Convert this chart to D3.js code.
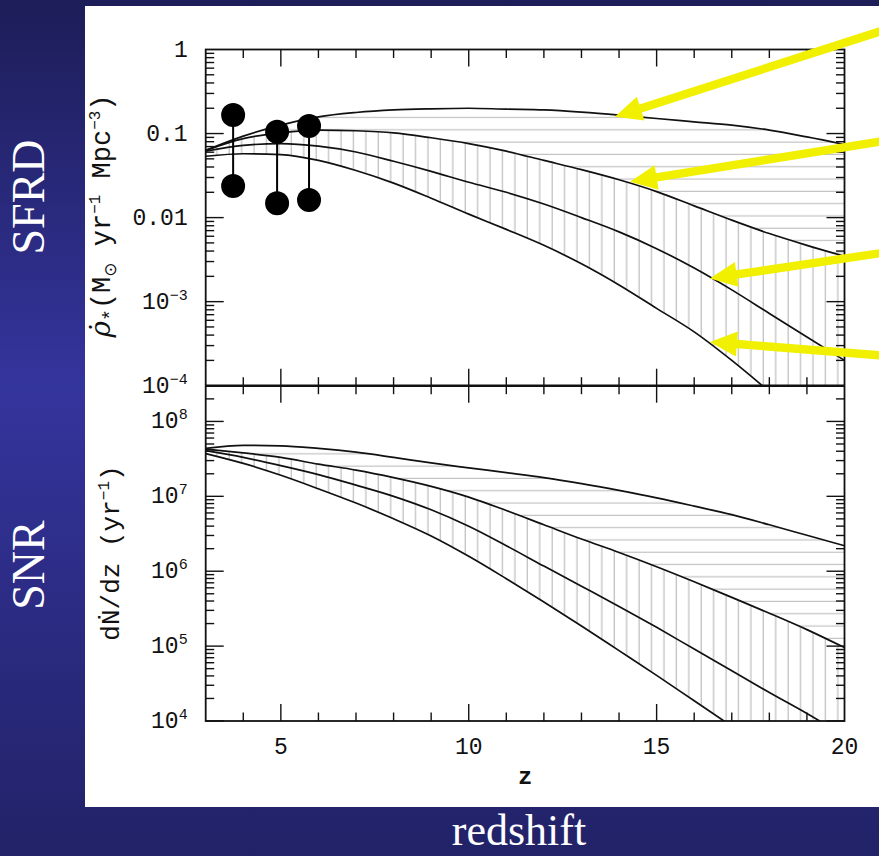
<!DOCTYPE html>
<html><head><meta charset="utf-8">
<script src="https://cdn.jsdelivr.net/npm/d3@7"></script>
<style>html,body{margin:0;padding:0;background:#2a2a7a;} svg{display:block;}</style>
</head><body><svg id="c" width="879" height="856"></svg>
<script>
// ---------------- data ----------------
const zGrid = [3,4,5,6,7,8,9,10,11,12,13,14,15,16,17,18,19,20];
// star formation rate density (M_sun / yr / Mpc^3)
const sfrdA = [0.0631,0.0933,0.126,0.158,0.178,0.191,0.197,0.200,0.195,0.191,0.180,0.166,0.151,0.138,0.126,0.110,0.0912,0.0741];
const sfrdB = [0.0631,0.0871,0.102,0.110,0.108,0.102,0.0891,0.0759,0.0617,0.0479,0.0372,0.0282,0.0204,0.0138,0.00933,0.00646,0.00468,0.00347];
const sfrdC = [0.0617,0.0724,0.0759,0.0708,0.0603,0.0468,0.0355,0.0263,0.0200,0.0145,0.0100,0.00676,0.00427,0.00251,0.00138,0.000724,0.000380,0.000200];
const sfrdD = [0.0537,0.0575,0.0562,0.0479,0.0363,0.0257,0.0170,0.0110,0.00724,0.00468,0.00282,0.00158,0.000832,0.000437,0.000200,0.0000851];
// supernova rate dN/dz (per yr)
const snrA = [4.37e7,4.79e7,4.73e7,4.37e7,3.89e7,3.31e7,2.79e7,2.40e7,2.07e7,1.78e7,1.48e7,1.20e7,9.55e6,7.41e6,5.69e6,4.17e6,3.02e6,2.19e6];
const snrB = [4.27e7,3.80e7,3.31e7,2.69e7,2.24e7,1.78e7,1.36e7,9.77e6,6.46e6,4.17e6,2.69e6,1.78e6,1.15e6,7.24e5,4.47e5,2.75e5,1.66e5,9.55e4];
const snrC = [4.07e7,3.31e7,2.57e7,1.95e7,1.41e7,1.00e7,6.61e6,3.98e6,2.19e6,1.17e6,6.31e5,3.39e5,1.78e5,9.12e4,4.68e4,2.40e4,1.26e4,6.31e3];
const snrD = [3.72e7,2.75e7,1.91e7,1.26e7,8.13e6,5.01e6,2.95e6,1.58e6,7.94e5,3.89e5,1.86e5,8.71e4,4.07e4,1.86e4,8.51e3];
// observed SFRD range points
const obsZ  = [3.73, 4.9, 5.75];
const obsHi = [0.166, 0.105, 0.123];
const obsLo = [0.0237, 0.0148, 0.0162];
// tick labels
const xTickVals = [5,10,15,20];
const xTickLabels = ["5","10","15","20"];
const sfrdTickVals = [1,0.1,0.01,1e-3,1e-4];
const sfrdTickLabels = [["1",""],["0.1",""],["0.01",""],["10","\u22123"],["10","\u22124"]];
const snrTickVals = [1e4,1e5,1e6,1e7,1e8];
const snrTickLabels = [["10","4"],["10","5"],["10","6"],["10","7"],["10","8"]];
// annotation arrows (tip, tail) in top-panel data coordinates
const arrowTipZ  = [13.89, 14.29, 16.42, 16.42];
const arrowTipV  = [0.158, 0.0267, 0.00189, 0.000332];
const arrowTailZ = [21.45, 21.45, 21.45, 21.45];
const arrowTailV = [1.94, 0.0871, 0.00407, 0.000221];

// ---------------- layout ----------------
const W = 879, H = 856;
const L = 205.7, R = 844.5, T = 49.5, MID = 385.7, B = 721;
const svg = d3.select("#c");
const defs = svg.append("defs");

const bg = defs.append("linearGradient").attr("id","bg").attr("x1",0).attr("y1",0).attr("x2",0).attr("y2",1);
bg.append("stop").attr("offset","0%").attr("stop-color","#1d1d58");
bg.append("stop").attr("offset","45%").attr("stop-color","#34349d");
bg.append("stop").attr("offset","100%").attr("stop-color","#222268");
svg.append("rect").attr("width",W).attr("height",H).attr("fill","url(#bg)");
svg.append("rect").attr("x",85).attr("y",6).attr("width",W-85).attr("height",801).attr("fill","#fff");

const hatchCol = "#c2c2c2";
function hPattern(id, off){
  const p = defs.append("pattern").attr("id",id).attr("patternUnits","userSpaceOnUse")
    .attr("x",0).attr("y",off).attr("width",40).attr("height",12.3);
  p.append("line").attr("x1",0).attr("x2",40).attr("y1",6).attr("y2",6).attr("stroke",hatchCol).attr("stroke-width",1.3);
}
function vPattern(id, off){
  const p = defs.append("pattern").attr("id",id).attr("patternUnits","userSpaceOnUse")
    .attr("x",off).attr("y",0).attr("width",12.42).attr("height",40);
  p.append("line").attr("y1",0).attr("y2",40).attr("x1",6).attr("x2",6).attr("stroke",hatchCol).attr("stroke-width",1.3);
}
hPattern("hT", 0.8); vPattern("vT", -0.3);
hPattern("hB", 5.0); vPattern("vB", -0.3);

const x = d3.scaleLinear().domain([3,20]).range([L,R]);
const yT = d3.scaleLog().domain([1e-4,1]).range([MID,T]);
const yB = d3.scaleLog().domain([1e4,3e8]).range([B,MID]);

function panel(id, y, top, bottom, A, Bv, C, D, hp, vp){
  defs.append("clipPath").attr("id",id).append("rect").attr("x",L).attr("y",top).attr("width",R-L).attr("height",bottom-top);
  const g = svg.append("g").attr("clip-path",`url(#${id})`);
  const both = zGrid.map((z,i)=>[z,A[i],Bv[i]]);
  g.append("path").datum(both).attr("fill",`url(#${hp})`)
    .attr("d", d3.area().curve(d3.curveMonotoneX).x(d=>x(d[0])).y0(d=>y(d[2])).y1(d=>y(d[1])));
  g.append("path").datum(zGrid.map((z,i)=>[z,Bv[i]])).attr("fill",`url(#${vp})`)
    .attr("d", d3.area().curve(d3.curveMonotoneX).x(d=>x(d[0])).y0(bottom+5).y1(d=>y(d[1])));
  const ptsD = D.map((v,i)=>[zGrid[i],v]);
  g.append("path").datum(ptsD).attr("fill","#fff")
    .attr("d", d3.area().curve(d3.curveMonotoneX).x(d=>x(d[0])).y0(bottom+200).y1(d=>y(d[1])));
  const line = d3.line().curve(d3.curveMonotoneX).x(d=>x(d[0])).y(d=>y(d[1]));
  [A,Bv,C,D].forEach(s=>{
    g.append("path").datum(s.map((v,i)=>[zGrid[i],v])).attr("fill","none")
      .attr("stroke","#111").attr("stroke-width",1.7).attr("d",line);
  });
}
panel("clipT", yT, T, MID, sfrdA, sfrdB, sfrdC, sfrdD, "hT", "vT");
panel("clipB", yB, MID, B, snrA, snrB, snrC, snrD, "hB", "vB");

// ---------------- frames & ticks ----------------
const ax = svg.append("g").attr("stroke","#111").attr("fill","none");
ax.append("rect").attr("x",L).attr("y",T).attr("width",R-L).attr("height",B-T).attr("stroke-width",1.8);
ax.append("line").attr("x1",L).attr("x2",R).attr("y1",MID).attr("y2",MID).attr("stroke-width",2.4);

const tw = 1.4, majL = 17, minL = 8.5;
const xMinor = d3.range(4,20).filter(v=>v%5!==0);
function xTicks(yy, dir){
  xTickVals.filter(v=>v<20).forEach(v=>ax.append("line").attr("x1",x(v)).attr("x2",x(v)).attr("y1",yy).attr("y2",yy+dir*majL).attr("stroke-width",tw));
  xMinor.forEach(v=>ax.append("line").attr("x1",x(v)).attr("x2",x(v)).attr("y1",yy).attr("y2",yy+dir*minL).attr("stroke-width",tw));
}
xTicks(T, 1); xTicks(MID, -1); xTicks(MID, 1); xTicks(B, -1);

function yTicks(y){
  const dom = y.domain();
  for(let e=Math.floor(Math.log10(dom[0])); e<=Math.ceil(Math.log10(dom[1])); e++){
    for(let k=1;k<=9;k++){
      const v = k*Math.pow(10,e);
      if(v<dom[0]*0.9999 || v>=dom[1]*0.9999) continue;
      if(v<=dom[0]*1.0001 && k>1) continue;
      const len = k===1?majL+1:minL;
      const yy = y(v);
      ax.append("line").attr("x1",L).attr("x2",L+len).attr("y1",yy).attr("y2",yy).attr("stroke-width",tw);
      ax.append("line").attr("x1",R).attr("x2",R-len).attr("y1",yy).attr("y2",yy).attr("stroke-width",tw);
    }
  }
}
yTicks(yT); yTicks(yB);

// tick labels
const mono = "'Liberation Mono','DejaVu Sans Mono',monospace";
const lab = svg.append("g").attr("font-family",mono).attr("fill","#111");
function yLabels(y, vals, labs){
  vals.forEach((v,i)=>{
    const t = lab.append("text").attr("x",L-18).attr("y",y(v)+7).attr("text-anchor","end").attr("font-size",23);
    t.append("tspan").text(labs[i][0]);
    if(labs[i][1]) t.append("tspan").attr("dy",-9).attr("font-size",15).text(labs[i][1]);
  });
}
yLabels(yT, sfrdTickVals, sfrdTickLabels);
yLabels(yB, snrTickVals, snrTickLabels);
xTickVals.forEach((v,i)=>{
  lab.append("text").attr("x",x(v)).attr("y",B+33).attr("text-anchor","middle").attr("font-size",23).text(xTickLabels[i]);
});
lab.append("text").attr("x",(L+R)/2).attr("y",B+63).attr("text-anchor","middle").attr("font-size",24).attr("font-weight","bold").text("z");

// axis titles
const tTop = lab.append("text").attr("transform","translate(110,216) rotate(-90)").attr("text-anchor","middle").attr("font-size",27);
tTop.append("tspan").attr("font-family","'DejaVu Serif',serif").attr("font-style","italic").attr("font-size",28).text("\u03C1\u0307");
tTop.append("tspan").attr("dy",7).attr("font-size",20).text("*");
tTop.append("tspan").attr("dy",-7).text("(M");
tTop.append("tspan").attr("dy",6).attr("font-size",17).attr("font-family","'DejaVu Sans',sans-serif").text("\u2299");
tTop.append("tspan").attr("dy",-6).text(" yr");
tTop.append("tspan").attr("dy",-10).attr("font-size",16).text("\u22121");
tTop.append("tspan").attr("dy",10).text(" Mpc");
tTop.append("tspan").attr("dy",-10).attr("font-size",16).text("\u22123");
tTop.append("tspan").attr("dy",10).text(")");

const tBot = lab.append("text").attr("transform","translate(119,553) rotate(-90)").attr("text-anchor","middle").attr("font-size",26);
tBot.append("tspan").text("d\u1E44/dz (yr");
tBot.append("tspan").attr("dy",-10).attr("font-size",16).text("\u22121");
tBot.append("tspan").attr("dy",10).text(")");

// observed points
const obs = svg.append("g");
obsZ.forEach((z,i)=>{
  obs.append("line").attr("x1",x(z)).attr("x2",x(z)).attr("y1",yT(obsHi[i])).attr("y2",yT(obsLo[i])).attr("stroke","#000").attr("stroke-width",2);
  [obsHi[i],obsLo[i]].forEach(v=>obs.append("circle").attr("cx",x(z)).attr("cy",yT(v)).attr("r",12).attr("fill","#000"));
});

// arrows
const arr = svg.append("g").attr("fill","#f0f000").attr("stroke","none");
arrowTipZ.forEach((z,i)=>{
  const x1 = x(z), y1 = yT(arrowTipV[i]);
  const x2 = x(arrowTailZ[i]), y2 = yT(arrowTailV[i]);
  const dx = x2-x1, dy = y2-y1, len = Math.hypot(dx,dy);
  const ux = dx/len, uy = dy/len, nx = -uy, ny = ux;
  const hl = 27, hw = 12.5, sw = 4.2;
  const bx = x1+ux*hl, by = y1+uy*hl;
  arr.append("path").attr("d",
    `M${x1},${y1} L${bx+nx*hw},${by+ny*hw} L${bx+nx*sw},${by+ny*sw} L${x2+nx*sw},${y2+ny*sw} L${x2-nx*sw},${y2-ny*sw} L${bx-nx*sw},${by-ny*sw} L${bx-nx*hw},${by-ny*hw} Z`);
});

// slide labels
const serif = "'Liberation Serif','Times New Roman',serif";
svg.append("text").attr("transform","translate(44,197) rotate(-90)").attr("text-anchor","middle")
  .attr("font-family",serif).attr("font-size",46).attr("fill","#fff").text("SFRD");
svg.append("text").attr("transform","translate(44,565) rotate(-90)").attr("text-anchor","middle")
  .attr("font-family",serif).attr("font-size",46).attr("fill","#fff").text("SNR");
svg.append("text").attr("x",519).attr("y",845).attr("text-anchor","middle")
  .attr("font-family",serif).attr("font-size",44).attr("fill","#fff").text("redshift");
</script></body></html>
